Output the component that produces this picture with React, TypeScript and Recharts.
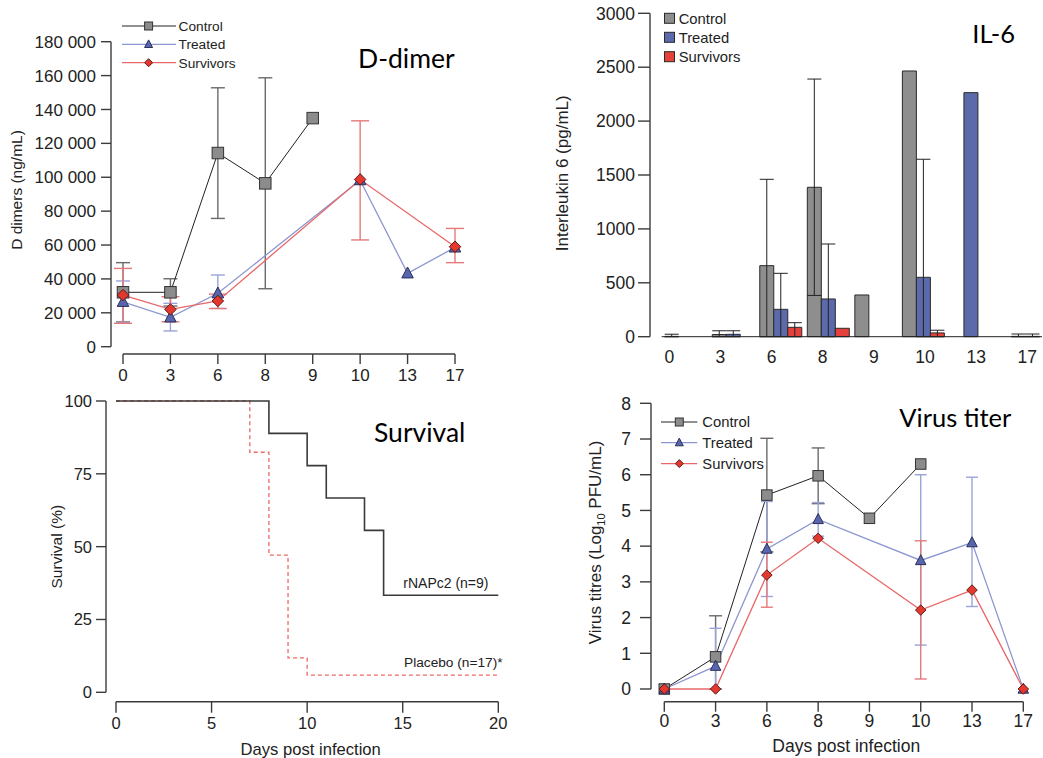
import React from 'react';
import { LineChart, Line, BarChart, Bar, XAxis, YAxis, ErrorBar, Legend } from 'recharts';

// ---------- data ----------
const DAYS = ['0', '3', '6', '8', '9', '10', '13', '17'];
const SERIES = ['Control', 'Treated', 'Survivors'];

// D-dimer (ng/mL)
const ddControl = [32100, 32100, 114300, 96400, 134900, null, null, null];
const ddControlErr = [[17500, 17500], [8100, 8000], [38600, 38500], [62200, 62300], null, null, null, null];
const ddTreated = [26500, 17300, 31500, null, null, 98300, 43300, 58600];
const ddTreatedErr = [[12300, 12300], [8000, 8300], [8900, 10800], null, null, null, null, null];
const ddSurv = [30500, 22000, 27000, null, null, 98700, null, 59000];
const ddSurvErr = [[16700, 15700], [7300, 7500], [4500, 4000], null, null, [35700, 34600], null, [9400, 10800]];
const ddTicks = [0, 20000, 40000, 60000, 80000, 100000, 120000, 140000, 160000, 180000];

// IL-6 (pg/mL)
const ilControl = [3, 20, 659, 1386, 387, 2465, null, null];
const ilControlErr = [[3, 20], [20, 35], [659, 801], [1003, 1004], null, null, null, null];
const ilTreated = [null, 22, 254, 350, null, 551, 2264, 3];
const ilTreatedErr = [null, [22, 33], [254, 334], [350, 510], null, [551, 1095], null, [3, 22]];
const ilSurv = [null, null, 87, 78, null, 35, null, 3];
const ilSurvErr = [null, null, [87, 43], null, null, [35, 25], null, [3, 22]];
const ilTicks = [0, 500, 1000, 1500, 2000, 2500, 3000];

// Survival (%)
const survDrugDays = [0, 8, 10, 11, 13, 14, 20];
const survDrug = [100, 88.9, 77.8, 66.7, 55.6, 33.3, 33.3];
const survPlaceboDays = [0, 7, 8, 9, 10, 20];
const survPlacebo = [100, 82.4, 47.1, 11.8, 5.9, 5.9];
const survYTicks = [0, 25, 50, 75, 100];
const survXTicks = [0, 5, 10, 15, 20];

// Virus titre (log10 PFU/mL)
const vtControl = [0, 0.9, 5.43, 5.97, 4.78, 6.3, null, null];
const vtControlErr = [null, [0.9, 1.15], [1.59, 1.59], [0.78, 0.78], null, null, null, null];
const vtTreated = [0, 0.64, 3.92, 4.75, null, 3.6, 4.1, 0];
const vtTreatedErr = [null, [0.64, 1.06], [1.33, 1.33], [0.47, 0.47], null, [2.37, 2.4], [1.79, 1.83], null];
const vtSurv = [0, 0, 3.19, 4.22, null, 2.21, 2.77, 0];
const vtSurvErr = [null, null, [0.9, 0.92], null, null, [1.93, 1.94], null, null];
const vtTicks = [0, 1, 2, 3, 4, 5, 6, 7, 8];

const ddData = DAYS.map((day, i) => ({
  day,
  control: ddControl[i], controlErr: ddControlErr[i],
  treated: ddTreated[i], treatedErr: ddTreatedErr[i],
  surv: ddSurv[i], survErr: ddSurvErr[i],
}));
const ilData = DAYS.map((day, i) => ({
  day,
  control: ilControl[i], controlErr: ilControlErr[i],
  treated: ilTreated[i], treatedErr: ilTreatedErr[i],
  surv: ilSurv[i], survErr: ilSurvErr[i],
}));
const vtData = DAYS.map((day, i) => ({
  day,
  control: vtControl[i], controlErr: vtControlErr[i],
  treated: vtTreated[i], treatedErr: vtTreatedErr[i],
  surv: vtSurv[i], survErr: vtSurvErr[i],
}));
const survDrugData = survDrugDays.map((day, i) => ({ day, v: survDrug[i] }));
const survPlaceboData = survPlaceboDays.map((day, i) => ({ day, v: survPlacebo[i] }));

// ---------- styles ----------
const FONT = '"Liberation Sans", Arial, sans-serif';
const TITLE_FONT = 'Lato, "Liberation Sans", sans-serif';
const INK = '#222';
const AXIS = { stroke: '#3c3c3c', strokeWidth: 1.4 };
const KEYS = ['control', 'treated', 'surv'];

const STYLE: any = {
  Control: { shape: 'square', fill: '#8c8c8c', stroke: '#333', line: '#222', lineW: 1, err: '#6a6a6a', bar: '#8e8e8e' },
  Treated: { shape: 'triangle', fill: '#5867ad', stroke: '#2b2d5a', line: '#8d96cf', lineW: 1.3, err: '#9aa3d8', bar: '#5c6aac' },
  Survivors: { shape: 'diamond', fill: '#e4382f', stroke: '#5b1c1c', line: '#e8686a', lineW: 1.3, err: '#e5797a', bar: '#e5413b' },
};

const tick = (fontSize: number) => ({ fontSize, fill: INK, fontFamily: FONT });

function Marker({ cx, cy, shape, size, fill, stroke }: any) {
  if (cx == null || cy == null || Number.isNaN(cx) || Number.isNaN(cy)) return null;
  const h = size / 2;
  if (shape === 'square') {
    return <rect x={cx - h} y={cy - h} width={size} height={size} fill={fill} stroke={stroke} strokeWidth={1} />;
  }
  if (shape === 'triangle') {
    return (
      <polygon
        points={`${cx},${cy - h * 1.1} ${cx + h},${cy + h * 0.8} ${cx - h},${cy + h * 0.8}`}
        fill={fill} stroke={stroke} strokeWidth={1} strokeLinejoin="round"
      />
    );
  }
  return (
    <polygon
      points={`${cx},${cy - h} ${cx + h},${cy} ${cx},${cy + h} ${cx - h},${cy}`}
      fill={fill} stroke={stroke} strokeWidth={1}
    />
  );
}

const dotRenderer = (name: string, size: number) => (p: any) => (
  <g key={p.key ?? `dot-${name}-${p.index}`}>
    <Marker cx={p.cx} cy={p.cy} size={size} shape={STYLE[name].shape} fill={STYLE[name].fill} stroke={STYLE[name].stroke} />
  </g>
);

function LineLegend({ rows, lineLen, markX, textX, size, fontSize, width, height }: any) {
  return (
    <svg width={width} height={height} style={{ display: 'block', overflow: 'visible' }}>
      {SERIES.map((name, i) => (
        <g key={name}>
          <line x1={0} x2={lineLen} y1={rows[i]} y2={rows[i]} stroke={STYLE[name].line} strokeWidth={STYLE[name].lineW} />
          <Marker cx={markX} cy={rows[i]} size={size} shape={STYLE[name].shape} fill={STYLE[name].fill} stroke={STYLE[name].stroke} />
          <text x={textX} y={rows[i]} dy="0.36em" fontSize={fontSize} fontFamily={FONT} fill={INK}>{name}</text>
        </g>
      ))}
    </svg>
  );
}

function BoxLegend({ rows, box, textX, fontSize, width, height }: any) {
  return (
    <svg width={width} height={height} style={{ display: 'block', overflow: 'visible' }}>
      {SERIES.map((name, i) => (
        <g key={name}>
          <rect x={0.5} y={rows[i] - box / 2} width={box} height={box} fill={STYLE[name].bar} stroke="#2a2a2a" strokeWidth={1} />
          <text x={textX} y={rows[i]} dy="0.36em" fontSize={fontSize} fontFamily={FONT} fill={INK}>{name}</text>
        </g>
      ))}
    </svg>
  );
}

const renderLines = (size: number, caps: number[]) =>
  SERIES.map((name, i) => (
    <Line
      key={name}
      xAxisId="x"
      yAxisId="y"
      type="linear"
      dataKey={KEYS[i]}
      name={name}
      stroke={STYLE[name].line}
      strokeWidth={STYLE[name].lineW}
      dot={dotRenderer(name, size)}
      activeDot={false}
      connectNulls
      isAnimationActive={false}
    >
      <ErrorBar dataKey={`${KEYS[i]}Err`} width={caps[i]} stroke={STYLE[name].err} strokeWidth={1.4} direction="y" />
    </Line>
  ));

const fmtThousands = (v: number) => (v === 0 ? '0' : `${v / 1000} 000`);

function Texts() {
  const t = { fontFamily: FONT, fill: INK } as any;
  const title = { fontFamily: TITLE_FONT, fill: '#000' } as any;
  return (
    <svg width={1043} height={758} style={{ position: 'absolute', left: 0, top: 0, pointerEvents: 'none' }}>
      <text x={358} y={68.3} fontSize={26.5} {...title}>D-dimer</text>
      <text x={972.3} y={43.3} fontSize={25.5} {...title}>IL-6</text>
      <text x={374} y={441.7} fontSize={26.5} {...title}>Survival</text>
      <text x={899.3} y={426.7} fontSize={25.5} {...title}>Virus titer</text>

      <text transform="translate(21.7,190) rotate(-90)" textAnchor="middle" fontSize={15.5} {...t}>D dimers (ng/mL)</text>
      <text transform="translate(568,173.3) rotate(-90)" textAnchor="middle" fontSize={17} {...t}>Interleukin 6 (pg/mL)</text>
      <text transform="translate(61.7,546.7) rotate(-90)" textAnchor="middle" fontSize={15.5} {...t}>Survival (%)</text>
      <text transform="translate(601.4,542.5) rotate(-90)" textAnchor="middle" fontSize={17} {...t}>
        Virus titres (Log<tspan fontSize={11} dy={4}>10</tspan><tspan dy={-4}> PFU/mL)</tspan>
      </text>

      <text x={310.7} y={755} textAnchor="middle" fontSize={16.6} {...t}>Days post infection</text>
      <text x={846.2} y={751.8} textAnchor="middle" fontSize={17.5} {...t}>Days post infection</text>

      <text x={403.3} y={588.3} fontSize={14} {...t}>rNAPc2 (n=9)</text>
      <text x={404} y={666.7} fontSize={13.7} {...t}>Placebo (n=17)*</text>
    </svg>
  );
}

export default function App() {
  return (
    <div style={{ position: 'absolute', left: 0, top: 0, width: 1043, height: 758, background: '#fff', overflow: 'hidden', fontFamily: FONT }}>
      {/* D-dimer */}
      <div style={{ position: 'absolute', left: 0, top: 0 }}>
        <LineChart width={520} height={395} data={ddData} margin={{ top: 41.7, right: 65, bottom: 6, left: 0 }}>
          <XAxis xAxisId="gap" dataKey="day" height={7.3} axisLine={false} tickLine={false} tick={false} />
          <XAxis xAxisId="x" dataKey="day" scale="point" height={35} interval={0} axisLine={AXIS} tickLine={AXIS} tickSize={10} tickMargin={5} tick={tick(17)} />
          <YAxis yAxisId="gap" type="number" domain={[0, 1]} width={12} axisLine={false} tickLine={false} tick={false} />
          <YAxis yAxisId="y" type="number" width={111} domain={[0, 180000]} ticks={ddTicks} interval={0} tickFormatter={fmtThousands} axisLine={AXIS} tickLine={AXIS} tickSize={10} tickMargin={5} tick={tick(17)} />
          {renderLines(11.5, [7, 7, 9])}
          <Legend
            layout="vertical" align="center" verticalAlign="middle"
            wrapperStyle={{ left: 122, top: 17, width: 130, height: 56 }}
            content={() => <LineLegend rows={[9, 27.3, 45.7]} lineLen={54} markX={26.6} textX={56.6} size={8} fontSize={13.7} width={130} height={56} />}
          />
        </LineChart>
      </div>

      {/* IL-6 */}
      <div style={{ position: 'absolute', left: 540, top: 0 }}>
        <BarChart width={503} height={380} data={ilData} barGap={0} margin={{ top: 13.3, right: 1, bottom: 0, left: 0 }}>
          <XAxis xAxisId="bars" dataKey="day" height={1} tick={false} tickLine={false} axisLine={{ stroke: '#222', strokeWidth: 1 }} />
          <XAxis xAxisId="labels" dataKey="day" scale="point" padding={{ left: 7.6, right: 14.7 }} height={42.3} interval={0} axisLine={false} tickLine={false} tickSize={0} tickMargin={13} tick={tick(17.5)} />
          <YAxis yAxisId="gap" type="number" domain={[0, 1]} width={11.7} axisLine={false} tickLine={false} tick={false} />
          <YAxis yAxisId="y" type="number" width={110} domain={[0, 3000]} ticks={ilTicks} interval={0} axisLine={AXIS} tickLine={AXIS} tickSize={12} tickMargin={3} tick={tick(17.5)} />
          {SERIES.map((name, i) => (
            <Bar key={name} xAxisId="bars" yAxisId="y" dataKey={KEYS[i]} name={name} fill={STYLE[name].bar} stroke="#2a2a2a" strokeWidth={1} barSize={14} isAnimationActive={false}>
              <ErrorBar dataKey={`${KEYS[i]}Err`} width={7} stroke="#222" strokeWidth={1} direction="y" />
            </Bar>
          ))}
          <Legend
            layout="vertical" align="center" verticalAlign="middle"
            wrapperStyle={{ left: 124.3, top: 8, width: 110, height: 60 }}
            content={() => <BoxLegend rows={[10.3, 29.3, 48.7]} box={10} textX={14.7} fontSize={14.8} width={110} height={60} />}
          />
        </BarChart>
      </div>

      {/* Survival */}
      <div style={{ position: 'absolute', left: 0, top: 380 }}>
        <LineChart width={520} height={378} margin={{ top: 21, right: 21.7, bottom: 6.3, left: 0 }}>
          <XAxis xAxisId="gap" type="number" dataKey="day" domain={[0, 20]} height={9.4} axisLine={false} tickLine={false} tick={false} />
          <XAxis xAxisId="x" type="number" dataKey="day" domain={[0, 20]} ticks={survXTicks} interval={0} height={50} axisLine={AXIS} tickLine={AXIS} tickSize={11} tickMargin={5} tick={tick(16.5)} />
          <YAxis yAxisId="gap" type="number" domain={[0, 1]} width={10} axisLine={false} tickLine={false} tick={false} />
          <YAxis yAxisId="y" type="number" width={106} domain={[0, 100]} ticks={survYTicks} interval={0} axisLine={AXIS} tickLine={AXIS} tickSize={10} tickMargin={4} tick={tick(16.5)} />
          <Line xAxisId="x" yAxisId="y" data={survPlaceboData} dataKey="v" name="Placebo (n=17)" type="stepAfter" stroke="#ec6a66" strokeWidth={1.3} strokeDasharray="4 3" dot={false} activeDot={false} isAnimationActive={false} />
          <Line xAxisId="x" yAxisId="y" data={survDrugData} dataKey="v" name="rNAPc2 (n=9)" type="stepAfter" stroke="#3a3a3a" strokeWidth={1.6} dot={false} activeDot={false} isAnimationActive={false} />
        </LineChart>
      </div>

      {/* Virus titer */}
      <div style={{ position: 'absolute', left: 560, top: 380 }}>
        <LineChart width={483} height={378} data={vtData} margin={{ top: 23.3, right: 19.7, bottom: 6.3, left: 0 }}>
          <XAxis xAxisId="gap" dataKey="day" height={12.7} axisLine={false} tickLine={false} tick={false} />
          <XAxis xAxisId="x" dataKey="day" scale="point" height={50} interval={0} axisLine={AXIS} tickLine={AXIS} tickSize={10} tickMargin={3} tick={tick(17.5)} />
          <YAxis yAxisId="gap" type="number" domain={[0, 1]} width={13.3} axisLine={false} tickLine={false} tick={false} />
          <YAxis yAxisId="y" type="number" width={91} domain={[0, 8]} ticks={vtTicks} interval={0} axisLine={AXIS} tickLine={AXIS} tickSize={11} tickMargin={9} tick={tick(17.5)} />
          {renderLines(10.5, [6.5, 6, 6])}
          <Legend
            layout="vertical" align="center" verticalAlign="middle"
            wrapperStyle={{ left: 101, top: 31.7, width: 130, height: 62 }}
            content={() => <LineLegend rows={[10, 30.6, 51.6]} lineLen={36.3} markX={18.3} textX={41.3} size={8} fontSize={14.8} width={130} height={62} />}
          />
        </LineChart>
      </div>

      <Texts />
    </div>
  );
}
